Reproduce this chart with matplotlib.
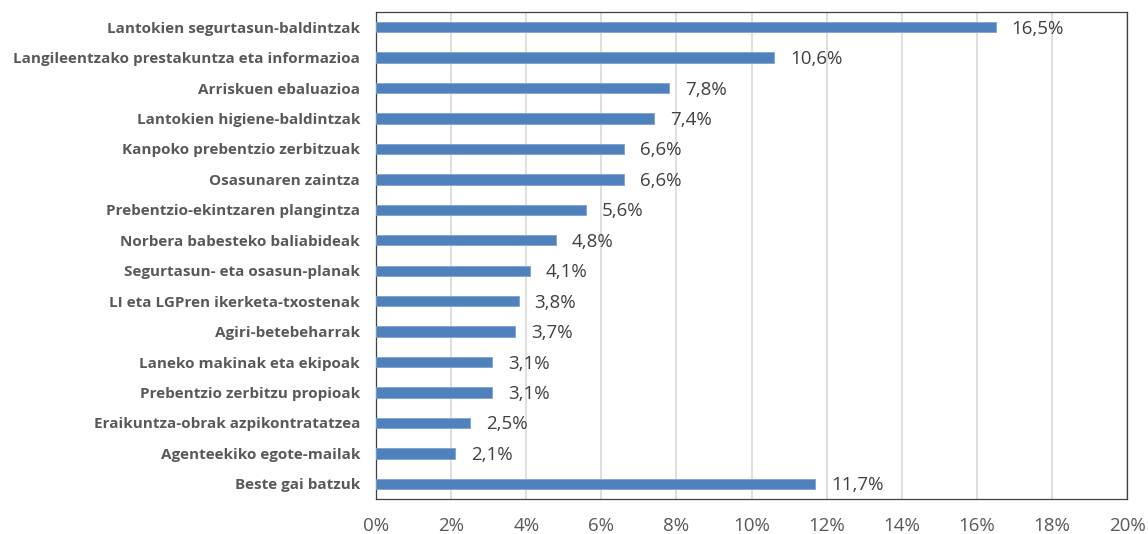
import matplotlib
matplotlib.use('Agg')
import matplotlib.pyplot as plt

# datuak
categories = [
    'Lantokien segurtasun-baldintzak',
    'Langileentzako prestakuntza eta informazioa',
    'Arriskuen ebaluazioa',
    'Lantokien higiene-baldintzak',
    'Kanpoko prebentzio zerbitzuak',
    'Osasunaren zaintza',
    'Prebentzio-ekintzaren plangintza',
    'Norbera babesteko baliabideak',
    'Segurtasun- eta osasun-planak',
    'LI eta LGPren ikerketa-txostenak',
    'Agiri-betebeharrak',
    'Laneko makinak eta ekipoak',
    'Prebentzio zerbitzu propioak',
    'Eraikuntza-obrak azpikontratatzea',
    'Agenteekiko egote-mailak',
    'Beste gai batzuk',
]
values = [16.5, 10.6, 7.8, 7.4, 6.6, 6.6, 5.6, 4.8, 4.1, 3.8, 3.7, 3.1, 3.1, 2.5, 2.1, 11.7]
xticks = [0, 2, 4, 6, 8, 10, 12, 14, 16, 18, 20]

plt.rcParams['font.family'] = ['Open Sans', 'DejaVu Sans']

fig = plt.figure(figsize=(11.48, 5.34), dpi=100)
ax = fig.add_axes([376 / 1148, 1 - 499 / 534, 751 / 1148, 487 / 534])

ypos = list(range(len(categories)))
ax.barh(ypos, values, height=0.34, color='#4F81BD', edgecolor='#7EA3D3', linewidth=0.6, zorder=3)

for y, v in zip(ypos, values):
    ax.text(v + 0.42, y + 0.05, f'{v:.1f}%'.replace('.', ','), va='center', ha='left',
            fontsize=13.5, color='#404040')

ax.set_xlim(0, 20)
ax.set_ylim(len(categories) - 0.5, -0.5)
ax.set_yticks(ypos)
ax.set_yticklabels(categories, fontsize=11, fontweight='bold', color='#595959')
ax.set_xticks(xticks)
ax.set_xticklabels([f'{t}%' for t in xticks], fontsize=13.5, color='#595959')
ax.tick_params(axis='y', length=0, pad=11.5)
ax.tick_params(axis='x', length=0, pad=13)
ax.grid(axis='x', color='#D9D9D9', linewidth=1.2, zorder=0)
for s in ax.spines.values():
    s.set_color('#404040')
    s.set_linewidth(0.9)

fig.savefig('out.png', dpi=100)
